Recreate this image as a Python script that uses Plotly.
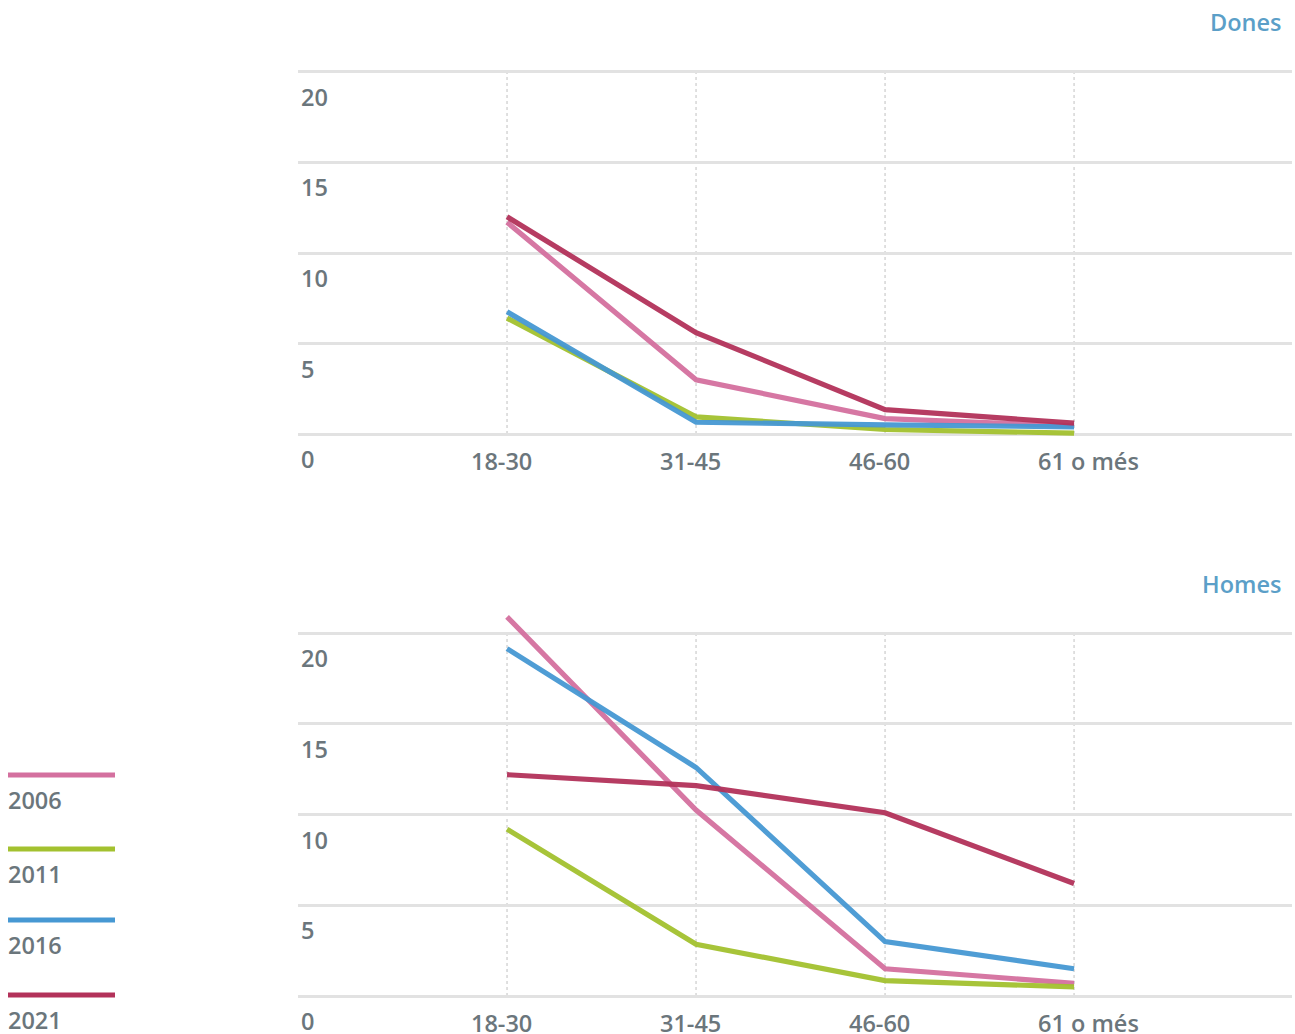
import plotly.graph_objects as go

categories = ["18-30", "31-45", "46-60", "61 o més"]
years = ["2006", "2011", "2016", "2021"]
colors = ["#d4709f", "#a3c12f", "#4698d3", "#b3325a"]

dones_2006 = [11.7, 3.0, 0.85, 0.45]
dones_2011 = [6.4, 0.95, 0.25, 0.05]
dones_2016 = [6.75, 0.65, 0.5, 0.4]
dones_2021 = [12.0, 5.6, 1.35, 0.6]

homes_2006 = [20.9, 10.25, 1.5, 0.7]
homes_2011 = [9.2, 2.85, 0.85, 0.5]
homes_2016 = [19.15, 12.6, 3.0, 1.5]
homes_2021 = [12.2, 11.6, 10.1, 6.2]

y_ticks = [0, 5, 10, 15, 20]

dones = [dones_2006, dones_2011, dones_2016, dones_2021]
homes = [homes_2006, homes_2011, homes_2016, homes_2021]

W, H = 1295, 1034
TXT = "#6b767c"
TITLE = "#5b9fc8"
FONT = "Open Sans"
FS = 23.5

fig = go.Figure()
xs = list(range(len(categories)))
for panel, (data, xa, ya) in enumerate([(dones, "x", "y"), (homes, "x2", "y2")]):
    for yr, col, vals in zip(years, colors, data):
        fig.add_trace(go.Scatter(x=xs, y=vals, mode="lines", name=yr,
                                 line=dict(color=col, width=5.2), opacity=0.95,
                                 xaxis=xa, yaxis=ya, showlegend=False,
                                 hoverinfo="skip"))

def px_y(p):
    return 1 - p / H

xdom = [298 / W, 1292 / W]
xrange = [-1.106, 4.153]
axis_common = dict(showline=False, zeroline=False, showticklabels=False, ticks="")
fig.update_layout(
    width=W, height=H,
    margin=dict(l=0, r=0, t=0, b=0),
    plot_bgcolor="white", paper_bgcolor="white",
    font=dict(family=FONT, color=TXT, size=FS),
    xaxis=dict(domain=xdom, range=xrange, showgrid=False, anchor="y", **axis_common),
    yaxis=dict(domain=[px_y(440), px_y(66)], range=[-0.33, 20.33], tickvals=y_ticks,
               showgrid=True, gridcolor="#e2e2e2", gridwidth=2.5, anchor="x", **axis_common),
    xaxis2=dict(domain=xdom, range=xrange, showgrid=False, anchor="y2", **axis_common),
    yaxis2=dict(domain=[px_y(1002), px_y(606)], range=[-0.33, 21.5], tickvals=y_ticks,
                showgrid=True, gridcolor="#e2e2e2", gridwidth=2.5, anchor="x2", **axis_common),
)

shapes = []
annotations = []
for xa, ya in [("x", "y"), ("x2", "y2")]:
    for i, c in enumerate(categories):
        shapes.append(dict(type="line", xref=xa, yref=ya, x0=i, x1=i, y0=0, y1=y_ticks[-1],
                           line=dict(color="#d6d6d6", width=1.5, dash="dot"), layer="below"))
        annotations.append(dict(text=c, xref=xa, yref=ya, x=i, y=0, xanchor="left",
                                yanchor="middle", xshift=-38, yshift=-27, showarrow=False,
                                font=dict(family=FONT, size=FS, color=TXT, weight=600)))
    for t in y_ticks:
        annotations.append(dict(text=str(t), xref="paper", yref=ya, x=299 / W, y=t,
                                xanchor="left", yanchor="middle", yshift=-25, showarrow=False,
                                font=dict(family=FONT, size=FS, color=TXT, weight=600)))

for title, py in [("Dones", 22), ("Homes", 584)]:
    annotations.append(dict(text=title, xref="paper", yref="paper", x=1283 / W, y=px_y(py),
                            xanchor="right", yanchor="middle", showarrow=False,
                            font=dict(family=FONT, size=FS, color=TITLE, weight=600)))

legend_py = [775, 849, 920, 995]
for yr, col, py in zip(years, colors, legend_py):
    shapes.append(dict(type="line", xref="paper", yref="paper", x0=8 / W, x1=115 / W,
                       y0=px_y(py), y1=px_y(py), line=dict(color=col, width=5)))
    annotations.append(dict(text=yr, xref="paper", yref="paper", x=6 / W, y=px_y(py + 25),
                            xanchor="left", yanchor="middle", showarrow=False,
                            font=dict(family=FONT, size=FS, color=TXT, weight=600)))

fig.update_layout(shapes=shapes, annotations=annotations)
fig.write_html("out.html", config={"displayModeBar": False},
               post_script="document.body.style.margin='0';document.body.style.overflow='hidden';")
